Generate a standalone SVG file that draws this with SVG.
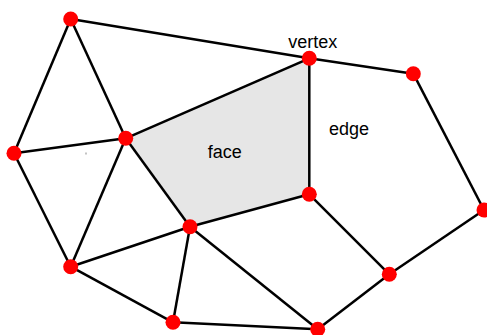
<svg xmlns="http://www.w3.org/2000/svg" width="487" height="335" viewBox="0 0 487 335">
<style>
.e{stroke:#000;stroke-width:2.5;fill:none}
.v{fill:#ff0000}
.t{font-family:"Liberation Sans",Arial,sans-serif;font-size:18px;fill:#000}
</style>
<rect width="487" height="335" fill="#fff"/>
<g id="face"><polygon points="125.7,138.3 309.3,58.3 309.3,194.3 190,226.7" fill="#e6e6e6"/></g>
<g id="connectors">
<line class="e" x1="70.7" y1="19" x2="309.3" y2="58.3"/>
<line class="e" x1="309.3" y1="58.3" x2="413.3" y2="73.7"/>
<line class="e" x1="413.3" y1="73.7" x2="484" y2="210"/>
<line class="e" x1="484" y1="210" x2="389.3" y2="274.3"/>
<line class="e" x1="389.3" y1="274.3" x2="317.7" y2="329.3"/>
<line class="e" x1="317.7" y1="329.3" x2="173" y2="322.3"/>
<line class="e" x1="173" y1="322.3" x2="70.7" y2="266.7"/>
<line class="e" x1="70.7" y1="266.7" x2="14" y2="153.3"/>
<line class="e" x1="14" y1="153.3" x2="70.7" y2="19"/>
<line class="e" x1="70.7" y1="19" x2="125.7" y2="138.3"/>
<line class="e" x1="14" y1="153.3" x2="125.7" y2="138.3"/>
<line class="e" x1="125.7" y1="138.3" x2="70.7" y2="266.7"/>
<line class="e" x1="125.7" y1="138.3" x2="309.3" y2="58.3"/>
<line class="e" x1="309.3" y1="58.3" x2="309.3" y2="194.3"/>
<line class="e" x1="309.3" y1="194.3" x2="190" y2="226.7"/>
<line class="e" x1="190" y1="226.7" x2="125.7" y2="138.3"/>
<line class="e" x1="190" y1="226.7" x2="70.7" y2="266.7"/>
<line class="e" x1="190" y1="226.7" x2="173" y2="322.3"/>
<line class="e" x1="190" y1="226.7" x2="317.7" y2="329.3"/>
<line class="e" x1="309.3" y1="194.3" x2="389.3" y2="274.3"/>
</g>
<g id="vA"><circle class="v" cx="70.7" cy="19" r="7.5"/></g>
<g id="vB"><circle class="v" cx="309.3" cy="58.3" r="7.5"/></g>
<g id="vC"><circle class="v" cx="413.3" cy="73.7" r="7.5"/></g>
<g id="vD"><circle class="v" cx="14" cy="153.3" r="7.5"/></g>
<g id="vE"><circle class="v" cx="125.7" cy="138.3" r="7.5"/></g>
<g id="vF"><circle class="v" cx="309.3" cy="194.3" r="7.5"/></g>
<g id="vG"><circle class="v" cx="484" cy="210" r="7.5"/></g>
<g id="vH"><circle class="v" cx="190" cy="226.7" r="7.5"/></g>
<g id="vI"><circle class="v" cx="70.7" cy="266.7" r="7.5"/></g>
<g id="vJ"><circle class="v" cx="389.3" cy="274.3" r="7.5"/></g>
<g id="vK"><circle class="v" cx="173" cy="322.3" r="7.5"/></g>
<g id="vL"><circle class="v" cx="317.7" cy="329.3" r="7.5"/></g>
<rect x="85.5" y="152.5" width="1" height="2" fill="#888"/>
<g id="labels">
<text class="t" x="288.3" y="47.5">vertex</text>
<text class="t" x="329" y="135">edge</text>
<text class="t" x="207.7" y="158.3">face</text>
</g>
</svg>
